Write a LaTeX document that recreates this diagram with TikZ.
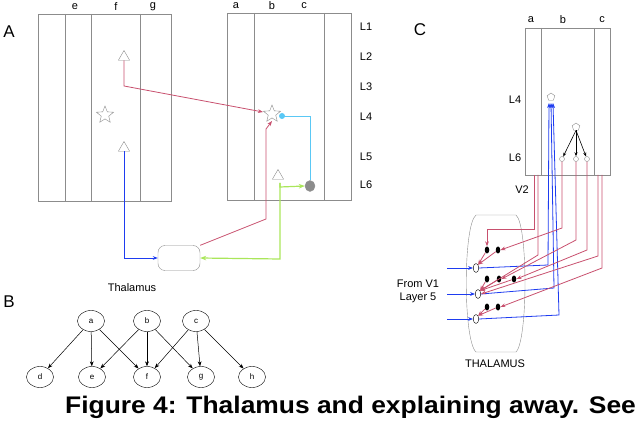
\documentclass[tikz,border=0pt]{standalone}
\usepackage{fontspec}
\setmainfont{Liberation Sans}
\usetikzlibrary{arrows.meta,shapes.geometric}
\definecolor{rd}{RGB}{200,80,110}
\definecolor{cy}{RGB}{90,200,245}
\definecolor{gr}{RGB}{170,230,90}
\definecolor{bl}{RGB}{30,60,240}
\definecolor{gy}{RGB}{140,140,140}
\begin{document}
\begin{tikzpicture}[x=1pt,y=-1pt,
  box/.style={draw=gy,line width=0.8pt},
  lab/.style={font=\fontsize{11}{12}\selectfont,inner sep=0pt},
  big/.style={font=\fontsize{17}{17}\selectfont,inner sep=0pt},
  tri/.style={draw=gy,fill=white,regular polygon,regular polygon sides=3,minimum size=13pt,inner sep=0pt},
  st/.style={draw=gy,fill=white,star,star points=5,star point ratio=2.3,minimum size=18pt,inner sep=0pt},
  gn/.style={draw,ellipse,minimum width=27pt,minimum height=21pt,inner sep=0pt,font=\fontsize{8}{9}\selectfont},
  ga/.style={-{Stealth[length=5pt]},line width=0.5pt},
  ra/.style={rd,line width=0.8pt,-{Stealth[length=5pt]}},
  ba/.style={bl,line width=0.8pt,-{Stealth[length=5pt]}},
  dot/.style={fill=black,ellipse,minimum width=4.5pt,minimum height=7pt,inner sep=0pt},
  cell/.style={draw,fill=white,ellipse,minimum width=5.5pt,minimum height=9pt,inner sep=0pt},
  sc/.style={draw=gy,fill=white,circle,minimum size=5pt,inner sep=0pt}]
\useasboundingbox (0,0) rectangle (640,422);
% Panel A
\node[big] (A) at (9,32) {A};
\draw[box] (38,14) rectangle (171,201);
\foreach \x in {65,91,140} \draw[box] (\x,14) -- (\x,201);
\node[lab] (le) at (75,7) {e};\node[lab] (lf) at (116,7) {f};\node[lab] (lg) at (153,7) {g};
\draw[box] (227,13) rectangle (351,200);
\foreach \x in {254,324} \draw[box] (\x,13) -- (\x,200);
\node[lab] (la) at (236,6) {a};\node[lab] (lb) at (272,6) {b};\node[lab] (lc) at (304,6) {c};
\foreach \t/\y in {1/27,2/57,3/87,4/117,5/157,6/185} \node[lab] (L\t) at (366,\y) {L\t};
\node[tri] (t1) at (124,57) {};
\node[tri] (t2) at (124,148) {};
\node[st] (s1) at (105,115) {};
\node[st] (s2) at (272,114) {};
\node[tri] (t3) at (278,176) {};
\node[draw=gy,fill=gy,ellipse,minimum width=10pt,minimum height=11pt,inner sep=0pt] (gc) at (310,186) {};
\node[draw=gy,rounded corners=7pt,minimum width=42pt,minimum height=25pt] (th) at (179,258) {};
\node[lab] (thl) at (132,288) {Thalamus};
\draw[ra] (t1.south) -- (124,86) -- (263,112);
\draw[ra] (th.north east) -- (266,219) -- (266,129) -- (272,121);
\draw[cy,line width=0.9pt] (gc.north) -- (310,116) -- (283,116);
\fill[cy] (282,116) circle (3pt);
\draw[gr,line width=1.2pt,-{Stealth[length=6pt]}] (280,183) -- (280,187) -- (gc.west);
\draw[gr,line width=1.2pt,-{Stealth[length=6pt]}] (280,183) -- (280,259) -- (th.east);
\draw[ba] (t2.south) -- (124,258) -- (th.west);
% Panel B
\node[big] (B) at (9,302) {B};
\node[gn] (a) at (91,321) {a};\node[gn] (b) at (147,321) {b};\node[gn] (c) at (196,321) {c};
\node[gn] (d) at (40,377) {d};\node[gn] (e) at (92,377) {e};\node[gn] (f) at (147,377) {f};
\node[gn] (g) at (201,377) {g};\node[gn] (h) at (252,377) {h};
\foreach \s/\t in {a/d,a/e,a/f,b/e,b/f,b/g,c/f,c/g,c/h} \draw[ga] (\s) -- (\t);
% Caption
\node[anchor=west,inner sep=0pt,font=\bfseries\fontsize{24}{25}\selectfont,xscale=1.1] (cap) at (65,407) {Figure 4: Thalamus and explaining away. See};
% Panel C
\node[big] (C) at (420,30) {C};
\draw[box] (525,28) rectangle (610,175);
\foreach \x in {541,594} \draw[box] (\x,28) -- (\x,175);
\node[lab] (ca) at (531,20) {a};\node[lab] (cb) at (563,20) {b};\node[lab] (cc) at (602,20) {c};
\node[lab] (c4) at (515,100) {L4};\node[lab] (c6) at (515,158) {L6};\node[lab] (cv) at (522,190) {V2};
\draw[draw=gy] (476,215) .. controls (463,225) and (463,340) .. (476,352) -- (516,352) .. controls (528,340) and (528,225) .. (516,215) -- cycle;
\node[lab] (TH) at (495,364) {THALAMUS};
\node[lab] (fv) at (418,284) {From V1};\node[lab] (ly) at (418,298) {Layer 5};
\node[draw=gy,fill=white,regular polygon,regular polygon sides=5,minimum size=8pt,inner sep=0pt] (p1) at (551,97) {};
\node[draw=gy,fill=white,regular polygon,regular polygon sides=5,minimum size=8pt,inner sep=0pt] (p2) at (576,127) {};
\node[sc] (k1) at (562,159) {};\node[sc] (k2) at (576,159) {};\node[sc] (k3) at (587,159) {};
\foreach \k in {k1,k2,k3} \draw[-{Stealth[length=4pt]},line width=0.6pt] (p2.south) -- (\k);
\node[cell] (r1) at (476,268) {};\node[cell] (r2) at (478,294) {};\node[cell] (r3) at (476,319) {};
\node[dot] (d1) at (487,250) {};\node[dot] (d2) at (498,250) {};
\node[dot] (d3) at (487,279) {};\node[dot] (d4) at (499,279) {};\node[dot] (d5) at (514,279) {};
\node[dot] (d6) at (487,307) {};\node[dot] (d7) at (498,307) {};
\coordinate (i1) at (447,268);\coordinate (i2) at (447,294);\coordinate (i3) at (447,319);
\draw[ba] (i1) -- (r1.west);\draw[ba] (i2) -- (r2.west);\draw[ba] (i3) -- (r3.west);
\draw[ba] (r1.east) -- (548,265) -- (549,103);
\draw[ba] (r2.east) -- (554,288) -- (551,103);
\draw[ba] (r3.east) -- (559,315) -- (553,103);
\draw[ra] (534,175) -- (534,229) -- (487,229) -- (d1.north);
\draw[ra] (d1) -- (r1.north east);\draw[ra] (d2) -- (r1.north east);
\draw[ra] (d3) -- (r2.north east);\draw[ra] (d4) -- (r2.north east);\draw[ra] (d5) -- (r2.north east);
\draw[ra] (d6) -- (r3.north east);\draw[ra] (d7) -- (r3.north east);
\draw[ra] (538,175) -- (538,255) -- (r2.north east);
\draw[ra] (k1.south) -- (562,228) -- (d2.east);
\draw[ra] (k2.south) -- (576,240) -- (d4.east);
\draw[ra] (k3.south) -- (587,250) -- (d5.east);
\draw[ra] (598,175) -- (598,256) -- (r2.east);
\draw[ra] (602,175) -- (602,268) -- (d7.east);
\end{tikzpicture}
\end{document}
